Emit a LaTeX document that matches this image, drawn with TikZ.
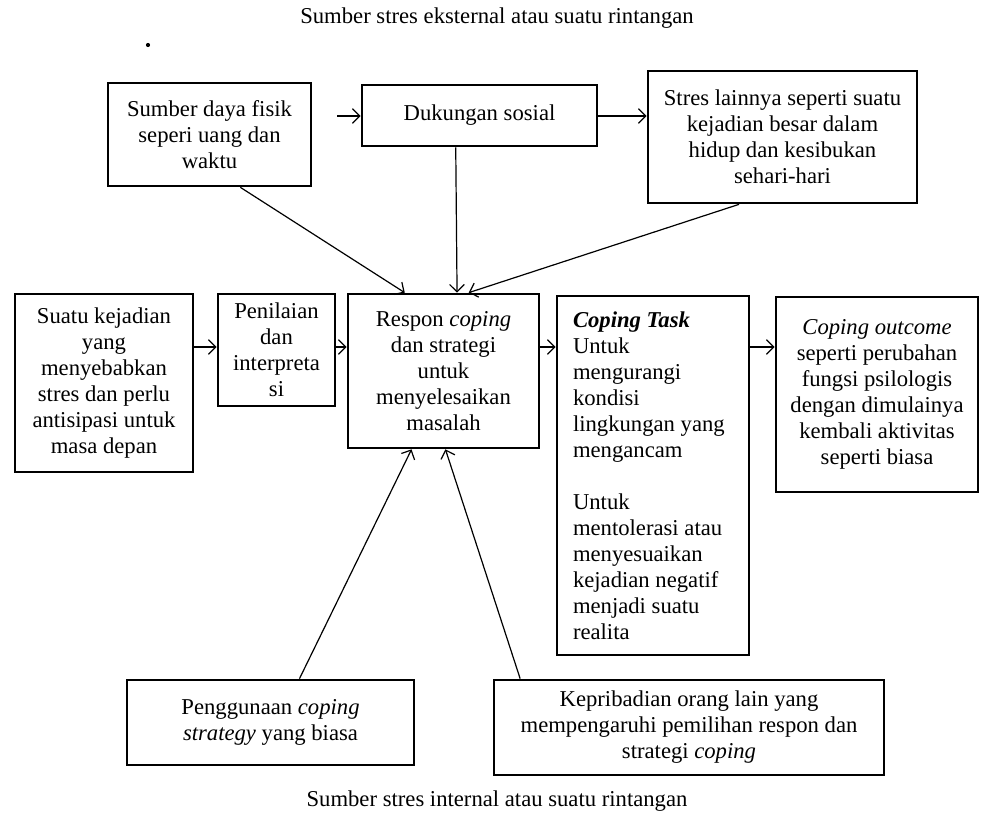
\documentclass[tikz,border=0pt]{standalone}
\usepackage{fontspec}
\setmainfont{Liberation Serif}
\usetikzlibrary{arrows.meta,calc}
\begin{document}
\begin{tikzpicture}[x=0.75pt,y=-0.75pt,
  box/.style={draw,line width=2pt,align=center,inner sep=2pt,
    font=\fontsize{17}{19.5}\selectfont},
  sz/.style 2 args={minimum width=#1*0.75pt,minimum height=#2*0.75pt},
  arr/.style={line width=0.9pt,-{Straight Barb[length=5.5pt,width=11pt]}},
  caption/.style={font=\fontsize{17}{19}\selectfont}]
\useasboundingbox (0,0) rectangle (981,821);

\node[caption] (top) at (497,18) {Sumber stres eksternal atau suatu rintangan};
\node[circle,fill,inner sep=1.1pt] (dot) at (148,45) {};
\node[caption] (bottom) at (497,801) {Sumber stres internal atau suatu rintangan};

\node[box,sz={203}{103}] (A) at (209.5,134.5) {Sumber daya fisik\\seperi uang dan\\waktu};
\node[box,sz={235}{61}] (B) at (479.5,115.5) {Dukungan sosial};
\node[box,sz={269}{132}] (C) at (782.5,137) {Stres lainnya seperti suatu\\kejadian besar dalam\\hidup dan kesibukan\\sehari-hari};

\node[box,sz={178}{178}] (D) at (104,383) {Suatu kejadian\\yang\\menyebabkan\\stres dan perlu\\antisipasi untuk\\masa depan};
\node[box,sz={117}{112}] (E) at (276.5,350) {Penilaian\\dan\\interpreta\\si};
\node[box,sz={191}{154}] (F) at (443.5,371) {Respon \textit{coping}\\dan strategi\\untuk\\menyelesaikan\\masalah};
\node[box,sz={192}{359},align=flush left,text width=160*0.75pt] (G) at (653,475.5) {\textbf{\textit{Coping Task}}\\Untuk\\mengurangi\\kondisi\\lingkungan yang\\mengancam\\[19.5pt]Untuk\\mentolerasi atau\\menyesuaikan\\kejadian negatif\\menjadi suatu\\realita};
\node[box,sz={202}{195}] (H) at (877,394.5) {\textit{Coping outcome}\\seperti perubahan\\fungsi psilologis\\dengan dimulainya\\kembali aktivitas\\seperti biasa};

\node[box,sz={287}{85}] (I) at (270.5,722.5) {Penggunaan \textit{coping}\\\textit{strategy} yang biasa};
\node[box,sz={390}{95}] (J) at (689,727.5) {Kepribadian orang lain yang\\mempengaruhi pemilihan respon dan\\strategi \textit{coping}};

% top row arrows
\coordinate (ab) at (337,116);
\draw[arr] (ab) -- (ab -| B.west);
\draw[arr] (B.east |- ab) -- (ab -| C.west);

% into F from above
\draw[arr] ($(A.south west)!0.65!(A.south east)$) -- ($(F.north west)!0.3!(F.north east)$);
\draw[arr] ($(B.south west)!0.4!(B.south east)$) -- ($(F.north west)!0.57!(F.north east)$);
\draw[arr] ($(C.south west)!0.34!(C.south east)$) -- ($(F.north west)!0.63!(F.north east)$);

% middle row
\coordinate (mid) at (0,347);
\draw[arr] (D.east |- mid) -- (E.west |- mid);
\draw[arr] (E.east |- mid) -- (F.west |- mid);
\draw[arr] (F.east |- mid) -- (G.west |- mid);
\draw[arr] (G.east |- mid) -- (H.west |- mid);

% from below
\draw[arr] ($(I.north west)!0.6!(I.north east)$) -- ($(F.south west)!0.335!(F.south east)$);
\draw[arr] ($(J.north west)!0.07!(J.north east)$) -- ($(F.south west)!0.51!(F.south east)$);
\end{tikzpicture}
\end{document}
